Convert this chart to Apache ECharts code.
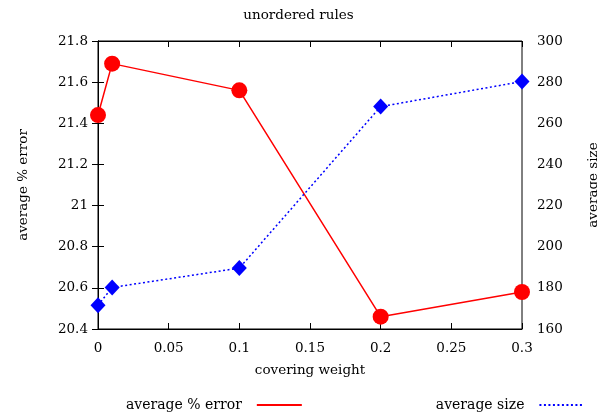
<!DOCTYPE html>
<html><head><meta charset="utf-8">
<script src="https://cdn.jsdelivr.net/npm/echarts@6/dist/echarts.min.js"></script>
<style>html,body{margin:0;padding:0;background:#fff}#c{width:597px;height:417px}</style>
</head><body><div id="c"></div>
<script>
const weights = [0, 0.01, 0.1, 0.2, 0.3];
const avgError = [21.44, 21.69, 21.56, 20.46, 20.58];
const avgSize = [171.5, 180.2, 189.6, 268.1, 280.3];
const titleText = 'unordered rules';
const xName = 'covering weight';
const yLeftName = 'average % error';
const yRightName = 'average size';

const F = 'DejaVu Serif';
const FS = 13.5;
const txt = {color:'#000', fontFamily:F, fontSize:FS};
const chart = echarts.init(document.getElementById('c'));
chart.setOption({
  animation:false,
  backgroundColor:'#fff',
  title:{text:titleText, left:'center', top:3, textStyle:{color:'#000', fontFamily:F, fontSize:FS, fontWeight:'normal'}},
  grid:{left:98, right:75, top:41, bottom:88, show:true, borderColor:'#000', borderWidth:1, outerBoundsMode:'none', containLabel:false},
  legend:{data:[yLeftName, yRightName], left:121, top:393, align:'right', itemWidth:45, itemHeight:10, itemGap:133,
    textStyle:{...txt, fontSize:14, padding:[0,10,0,0]}, itemStyle:{opacity:0}},
  xAxis:[
    {type:'value', min:0, max:0.3, interval:0.05, name:xName, nameLocation:'middle', nameGap:34, nameTextStyle:txt,
     axisLine:{lineStyle:{color:'#000'}}, axisTick:{inside:true, length:6, lineStyle:{color:'#000'}},
     axisLabel:{...txt, margin:12}, splitLine:{show:false}},
    {type:'value', position:'top', min:0, max:0.3, interval:0.05,
     axisLine:{lineStyle:{color:'#000'}}, axisTick:{inside:true, length:6, lineStyle:{color:'#000'}},
     axisLabel:{show:false}, splitLine:{show:false}}
  ],
  yAxis:[
    {type:'value', min:20.4, max:21.8, interval:0.2, name:yLeftName, nameLocation:'middle', nameGap:68, nameTextStyle:txt,
     axisLine:{show:true, lineStyle:{color:'#000'}}, axisTick:{inside:true, length:6, lineStyle:{color:'#000'}},
     axisLabel:{...txt, margin:10}, splitLine:{show:false}},
    {type:'value', min:160, max:300, interval:20, position:'right', name:yRightName, nameLocation:'middle', nameGap:64, nameRotate:90, nameTextStyle:txt,
     axisLine:{show:true, lineStyle:{color:'#000'}}, axisTick:{inside:true, length:6, lineStyle:{color:'#000'}},
     axisLabel:{...txt, margin:15}, splitLine:{show:false}}
  ],
  series:[
    {name:yLeftName, type:'line', xAxisIndex:0, yAxisIndex:0, data:weights.map((w,i)=>[w, avgError[i]]),
     symbol:'circle', symbolSize:16, color:'#ff0000', lineStyle:{color:'#ff0000', width:1.5}, itemStyle:{color:'#ff0000'}},
    {name:yRightName, type:'line', xAxisIndex:0, yAxisIndex:1, data:weights.map((w,i)=>[w, avgSize[i]]),
     symbol:'diamond', symbolSize:[15,16], color:'#0000ff', lineStyle:{color:'#0000ff', width:1.5, type:[2,2.5]}, itemStyle:{color:'#0000ff'}}
  ]
});
</script></body></html>
